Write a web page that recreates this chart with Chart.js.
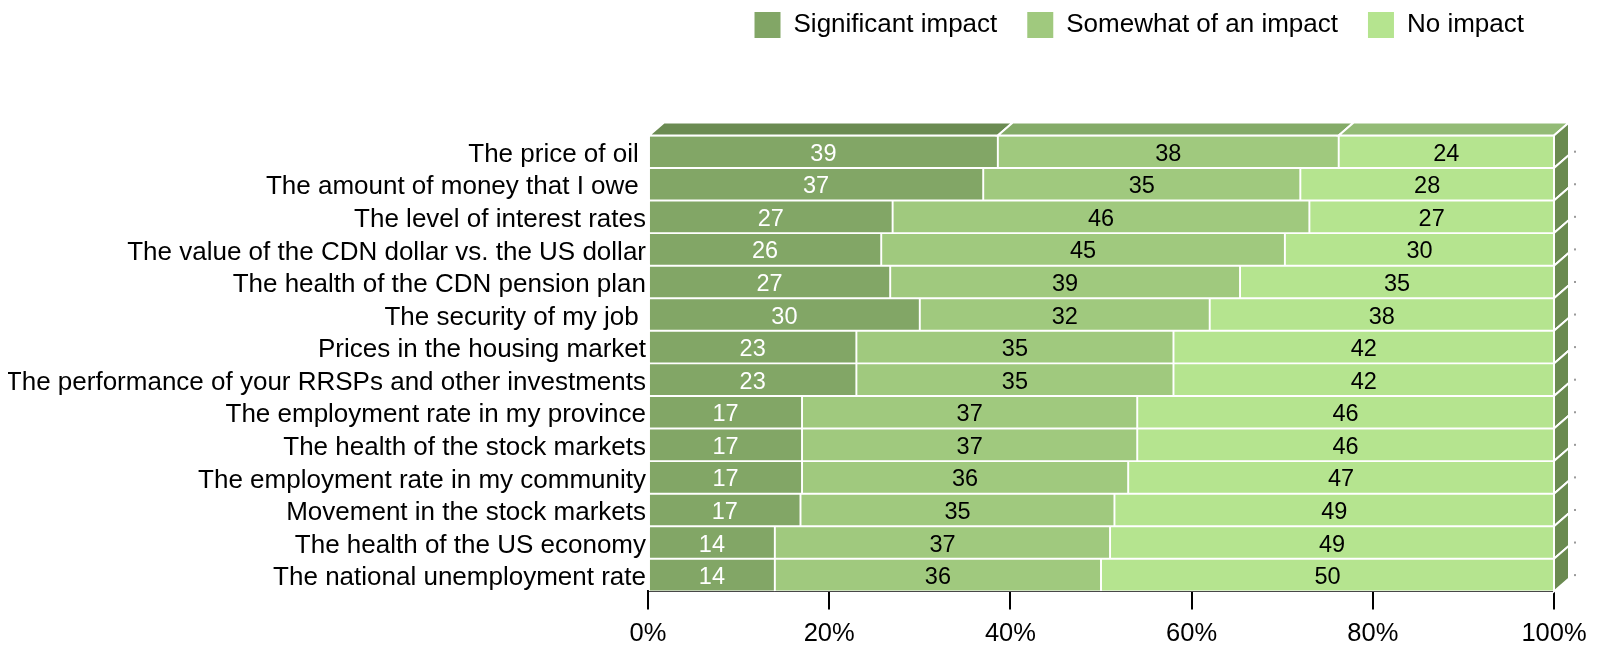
<!DOCTYPE html>
<html><head><meta charset="utf-8">
<script src="https://cdn.jsdelivr.net/npm/chart.js@4.4.0/dist/chart.umd.min.js"></script>
<style>html,body{margin:0;padding:0;background:#fff;}canvas{display:block;}</style>
</head><body>
<canvas id="c" width="1597" height="648"></canvas>
<script>
const categories = [
  'The price of oil ',
  'The amount of money that I owe ',
  'The level of interest rates',
  'The value of the CDN dollar vs. the US dollar',
  'The health of the CDN pension plan',
  'The security of my job ',
  'Prices in the housing market',
  'The performance of your RRSPs and other investments',
  'The employment rate in my province',
  'The health of the stock markets',
  'The employment rate in my community',
  'Movement in the stock markets',
  'The health of the US economy',
  'The national unemployment rate'
];
const seriesNames = ['Significant impact', 'Somewhat of an impact', 'No impact'];
const significant = [39, 37, 27, 26, 27, 30, 23, 23, 17, 17, 17, 17, 14, 14];
const somewhat    = [38, 35, 46, 45, 39, 32, 35, 35, 37, 37, 36, 35, 37, 36];
const noImpact    = [24, 28, 27, 30, 35, 38, 42, 42, 46, 46, 47, 49, 49, 50];
const xTickLabels = ['0%', '20%', '40%', '60%', '80%', '100%'];

const seriesValues = [significant, somewhat, noImpact];
const FAMILY = '"Liberation Sans", Arial, Helvetica, sans-serif';
const frontColors = ['#82a666', '#a0c97e', '#b5e48f'];
const topColors = ['#6b8b52', '#84ab68', '#93bb76'];
const sideColor = '#6a8a50';
const labelColors = ['#ffffff', '#000000', '#000000'];
const DX = 15, DY = 13;

const rowTotals = categories.map((_, j) => seriesValues.reduce((s, arr) => s + arr[j], 0));

const datasets = seriesValues.map((arr, i) => ({
  label: seriesNames[i],
  data: arr.map((v, j) => v / rowTotals[j] * 100),
  rawValues: arr,
  backgroundColor: frontColors[i],
  borderColor: '#ffffff',
  borderWidth: 1.3,
  borderSkipped: false,
  barPercentage: 1,
  categoryPercentage: 1
}));

const bar3d = {
  id: 'bar3d',
  afterDatasetsDraw(chart) {
    const ctx = chart.ctx;
    const n = chart.data.datasets.length;
    ctx.save();
    ctx.lineWidth = 2;
    ctx.strokeStyle = '#ffffff';
    ctx.lineJoin = 'miter';
    // top faces of the first row
    for (let i = 0; i < n; i++) {
      const el = chart.getDatasetMeta(i).data[0];
      const top = el.y - el.height / 2;
      const x0 = Math.min(el.base, el.x), x1 = Math.max(el.base, el.x);
      ctx.beginPath();
      ctx.moveTo(x0, top);
      ctx.lineTo(x1, top);
      ctx.lineTo(x1 + DX, top - DY);
      ctx.lineTo(x0 + DX, top - DY);
      ctx.closePath();
      ctx.fillStyle = topColors[i];
      ctx.fill();
      ctx.stroke();
    }
    // side faces of the last segment
    chart.getDatasetMeta(n - 1).data.forEach(el => {
      const top = el.y - el.height / 2, bot = el.y + el.height / 2;
      const x1 = Math.max(el.base, el.x);
      ctx.beginPath();
      ctx.moveTo(x1, top);
      ctx.lineTo(x1 + DX, top - DY);
      ctx.lineTo(x1 + DX, bot - DY);
      ctx.lineTo(x1, bot);
      ctx.closePath();
      ctx.fillStyle = sideColor;
      ctx.fill();
      ctx.stroke();
      // small marks on the back axis
      ctx.fillStyle = '#9a9a9a';
      ctx.fillRect(chart.chartArea.right + DX + 5, el.y - 1, 2, 2);
    });
    // value labels
    ctx.font = '23.5px ' + FAMILY;
    ctx.textAlign = 'center';
    ctx.textBaseline = 'middle';
    for (let i = 0; i < n; i++) {
      const ds = chart.data.datasets[i];
      chart.getDatasetMeta(i).data.forEach((el, j) => {
        ctx.fillStyle = labelColors[i];
        ctx.fillText(String(ds.rawValues[j]), (el.base + el.x) / 2, el.y + 2.5);
      });
    }
    ctx.restore();
  }
};

Chart.defaults.font.family = FAMILY;
Chart.defaults.color = '#000';

new Chart(document.getElementById('c'), {
  type: 'bar',
  data: { labels: categories, datasets },
  plugins: [bar3d],
  options: {
    indexAxis: 'y',
    responsive: false,
    animation: false,
    layout: { padding: { top: -18, right: 43, bottom: -10, left: 8 } },
    plugins: {
      tooltip: { enabled: false },
      legend: {
        position: 'top',
        align: 'end',
        fullSize: false,
        labels: {
          boxWidth: 26,
          boxHeight: 26,
          padding: 30,
          color: '#000',
          font: { size: 26, family: FAMILY },
          generateLabels(chart) {
            const items = Chart.defaults.plugins.legend.labels.generateLabels(chart);
            items.forEach(it => { it.lineWidth = 0; it.strokeStyle = 'rgba(0,0,0,0)'; });
            return items;
          }
        }
      }
    },
    scales: {
      x: {
        type: 'linear',
        position: 'bottom',
        stacked: true,
        min: 0,
        max: 100,
        grid: { drawOnChartArea: false, drawTicks: true, tickLength: 18, color: '#000', lineWidth: 2 },
        border: { display: true, color: '#000', width: 2 },
        ticks: {
          stepSize: 20,
          autoSkip: false,
          maxRotation: 0,
          padding: 9,
          color: '#000',
          font: { size: 25.5, family: FAMILY },
          callback: (v) => xTickLabels[Math.round(v / 20)]
        }
      },
      x2: {
        type: 'linear',
        position: 'top',
        display: true,
        grid: { display: false },
        border: { display: false },
        ticks: { display: false },
        afterFit: (s) => { s.height = 87.4; }
      },
      y: {
        stacked: true,
        grid: { display: false, drawTicks: false },
        border: { display: false },
        ticks: {
          autoSkip: false,
          padding: 2,
          labelOffset: 3,
          color: '#000',
          font: { size: 26, family: FAMILY }
        },
        afterFit: (s) => { s.width = 640; }
      }
    }
  }
});
</script>
</body></html>
